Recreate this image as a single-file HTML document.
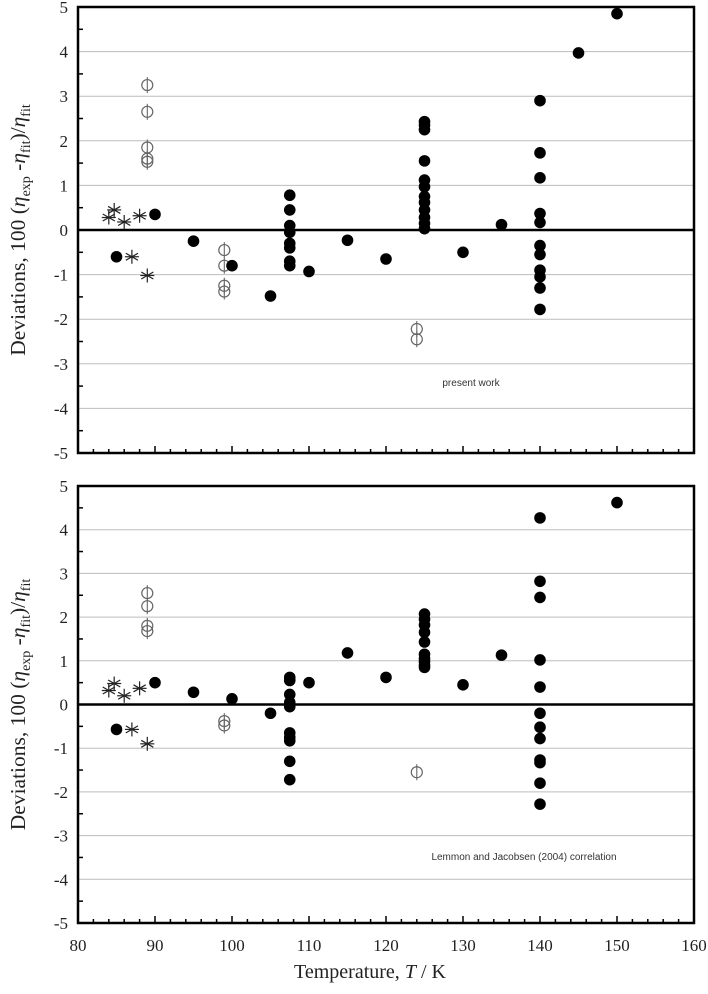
<!DOCTYPE html>
<html><head><meta charset="utf-8"><style>
html,body{margin:0;padding:0;background:#fff;}
svg{display:block;}
</style></head><body>
<svg id="chart" width="708" height="994" xmlns="http://www.w3.org/2000/svg" font-family="'Liberation Serif', serif"></svg>
<script>
const xTicks=[80,90,100,110,120,130,140,150,160];
const yTicks=[5,4,3,2,1,0,-1,-2,-3,-4,-5];
// top panel (present work)
const topFilledT=[85,90,95,100,105,107.5,107.5,107.5,107.5,107.5,107.5,107.5,107.5,110,115,120,125,125,125,125,125,125,125,125,125,125,125,125,130,135,140,140,140,140,140,140,140,140,140,140,140,145,150];
const topFilledD=[-0.6,0.35,-0.25,-0.8,-1.48,0.78,0.45,0.1,-0.05,-0.3,-0.4,-0.7,-0.8,-0.93,-0.23,-0.65,2.43,2.35,2.25,1.55,1.12,0.97,0.75,0.62,0.45,0.28,0.15,0.03,-0.5,0.12,2.9,1.73,1.17,0.37,0.17,-0.35,-0.55,-0.9,-1.05,-1.3,-1.78,3.97,4.85];
const topOpenT=[89,89,89,89,89,99,99,99,99,124,124];
const topOpenD=[3.25,2.65,1.85,1.6,1.53,-0.45,-0.8,-1.25,-1.38,-2.22,-2.45];
const topStarT=[84,84.7,86,88,87,89];
const topStarD=[0.28,0.45,0.18,0.32,-0.6,-1.02];
// bottom panel (Lemmon and Jacobsen)
const botFilledT=[85,90,95,100,105,107.5,107.5,107.5,107.5,107.5,107.5,107.5,107.5,107.5,107.5,110,115,120,125,125,125,125,125,125,125,125,125,125,130,135,140,140,140,140,140,140,140,140,140,140,140,140,150];
const botFilledD=[-0.57,0.5,0.28,0.13,-0.2,0.62,0.55,0.23,0.05,-0.05,-0.65,-0.75,-0.83,-1.3,-1.72,0.5,1.18,0.62,2.07,1.95,1.82,1.65,1.43,1.15,1.05,0.98,0.9,0.85,0.45,1.13,4.27,2.82,2.45,1.02,0.4,-0.2,-0.52,-0.78,-1.27,-1.33,-1.8,-2.28,4.62];
const botOpenT=[89,89,89,89,99,99,124];
const botOpenD=[2.55,2.25,1.8,1.68,-0.38,-0.48,-1.55];
const botStarT=[84,84.7,86,88,87,89];
const botStarD=[0.32,0.48,0.2,0.37,-0.57,-0.9];

const NS='http://www.w3.org/2000/svg';
const svg=document.getElementById('chart');
function mk(tag,attrs,parent){const e=document.createElementNS(NS,tag);for(const k in attrs)e.setAttribute(k,attrs[k]);(parent||svg).appendChild(e);return e;}
const X0=78,X1=694;
function xs(t){return X0+(t-80)/80*(X1-X0);}

function panel(name,top,bottom,fT,fD,oT,oD,sT,sD,label,lx,ly,showX){
  const g=mk('g',{});
  
  
  const ys=v=>top+(5-v)/10*(bottom-top);
  yTicks.forEach(v=>{
    if(v!==5&&v!==-5&&v!==0){const l=mk('line',{x1:X0,x2:X1,y1:ys(v),y2:ys(v),stroke:'#bdbdbd','stroke-width':1},g);
    }
    const t=mk('text',{x:68,y:ys(v)+6,'text-anchor':'end','font-size':17,fill:'#222'},g);
    
    t.textContent=v;
  });
  for(let v=-4.5;v<5;v+=1){mk('line',{x1:X0,x2:X0+5,y1:ys(v),y2:ys(v),stroke:'#000','stroke-width':1.5},g);}
  for(let t=82;t<160;t+=2){const maj=(t%10===0);mk('line',{x1:xs(t),x2:xs(t),y1:bottom,y2:bottom-(maj?7:4),stroke:'#000','stroke-width':1.5},g);}
  const z=mk('line',{x1:X0,x2:X1,y1:ys(0),y2:ys(0),stroke:'#000','stroke-width':2.5},g);
  
  const fr=mk('rect',{x:X0,y:top,width:X1-X0,height:bottom-top,fill:'none',stroke:'#000','stroke-width':2.5},g);
  
  if(showX){xTicks.forEach(t=>{const e=mk('text',{x:xs(t),y:bottom+28,'text-anchor':'middle','font-size':17,fill:'#222'},g);
    e.textContent=t;});}
  oT.forEach((t,i)=>{const cx=xs(t),cy=ys(oD[i]);
    const c=mk('circle',{cx:cx,cy:cy,r:5.5,fill:'none',stroke:'#666','stroke-width':1.2},g);
    
    mk('line',{x1:cx,x2:cx,y1:cy-8,y2:cy+8,stroke:'#666','stroke-width':1.1},g);});
  sT.forEach((t,i)=>{const cx=xs(t),cy=ys(sD[i]);const s=mk('g',{stroke:'#222','stroke-width':1.2},g);
    
    for(let a=0;a<180;a+=60){const r=a*Math.PI/180+Math.PI/2;mk('line',{x1:cx-7*Math.cos(r),y1:cy-7*Math.sin(r),x2:cx+7*Math.cos(r),y2:cy+7*Math.sin(r)},s);}
    mk('line',{x1:cx-7,x2:cx+7,y1:cy,y2:cy},s);});
  fT.forEach((t,i)=>{const c=mk('circle',{cx:xs(t),cy:ys(fD[i]),r:5.8,fill:'#000'},g);
    });
  const lb=mk('text',{x:lx,y:ly,'text-anchor':'middle','font-size':10,'font-family':"'Liberation Sans', sans-serif",fill:'#333'},g);
  lb.textContent=label;
  const yt=mk('text',{transform:`translate(25,${(top+bottom)/2}) rotate(-90)`,'text-anchor':'middle','font-size':21.5,fill:'#222'},g);
  
  yt.innerHTML='Deviations,  100 (<tspan font-style="italic">η</tspan><tspan font-size="14" dy="5">exp</tspan><tspan dy="-5"> -</tspan><tspan font-style="italic">η</tspan><tspan font-size="14" dy="5">fit</tspan><tspan dy="-5">)/</tspan><tspan font-style="italic">η</tspan><tspan font-size="14" dy="5">fit</tspan>';
}
panel('top-panel',7,453,topFilledT,topFilledD,topOpenT,topOpenD,topStarT,topStarD,'present work',471,386,false);
panel('bottom-panel',486,923,botFilledT,botFilledD,botOpenT,botOpenD,botStarT,botStarD,'Lemmon and Jacobsen (2004) correlation',524,860,true);
const xt=mk('text',{x:370,y:978,'text-anchor':'middle','font-size':20,fill:'#222'});

xt.innerHTML='Temperature, <tspan font-style="italic">T</tspan> / K';
</script>
</body></html>
